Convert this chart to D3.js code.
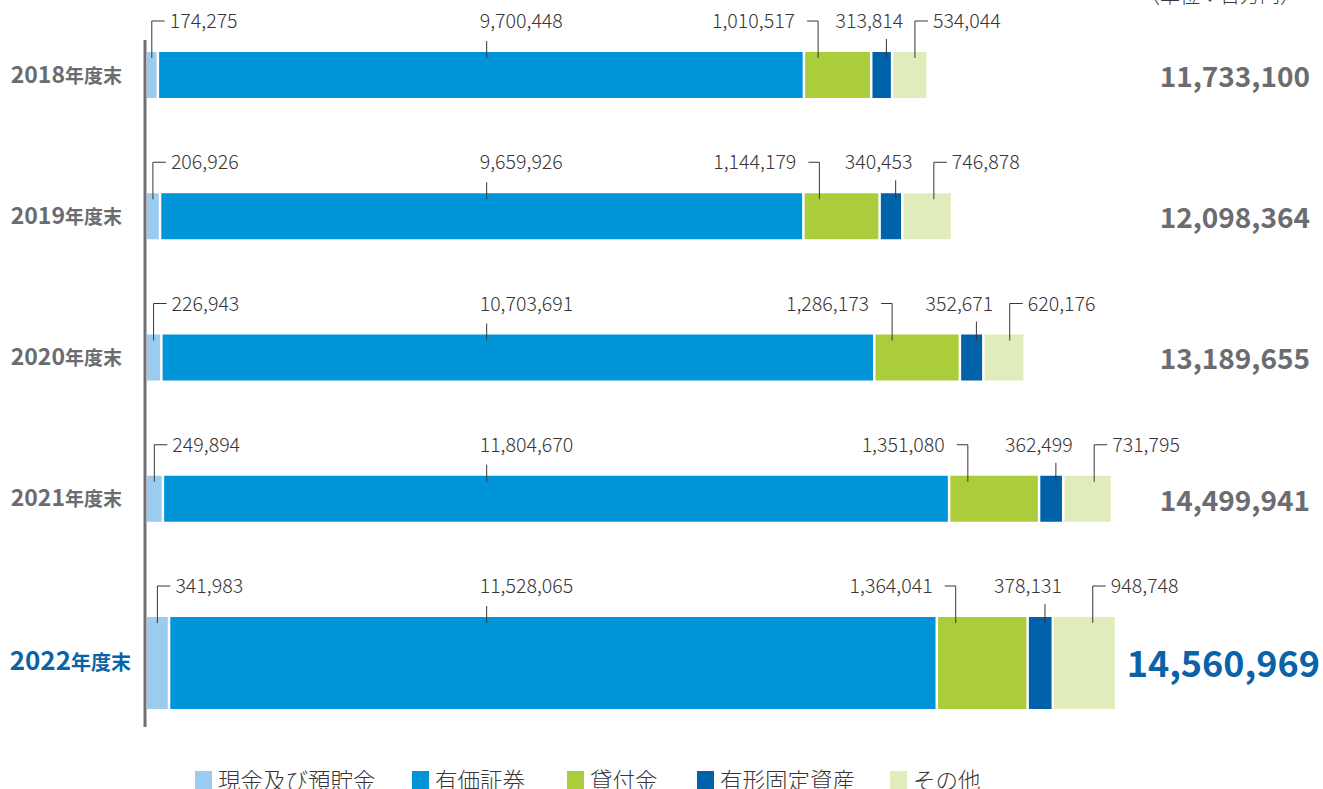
<!DOCTYPE html>
<html>
<head>
<meta charset="utf-8">
<script src="https://cdn.jsdelivr.net/npm/d3@7"></script>
<style>
  body { margin: 0; background: #fff; }
  svg { display: block; font-family: "Noto Sans CJK JP", "Noto Sans", sans-serif; }
  .val { font-size: 19.6px; font-weight: 300; fill: #3a3536; }
  .lead { stroke: #3a3536; stroke-width: 1; fill: none; }
</style>
</head>
<body>
<svg id="svg" width="1323" height="789"></svg>
<script>
// data (単位：百万円)
const years = ["2018", "2019", "2020", "2021", "2022"];
const categories = ["現金及び預貯金", "有価証券", "貸付金", "有形固定資産", "その他"];
const cash = [174275, 206926, 226943, 249894, 341983];
const securities = [9700448, 9659926, 10703691, 11804670, 11528065];
const loans = [1010517, 1144179, 1286173, 1351080, 1364041];
const fixedAssets = [313814, 340453, 352671, 362499, 378131];
const others = [534044, 746878, 620176, 731795, 948748];
const totals = [11733100, 12098364, 13189655, 14499941, 14560969];

const colors = ["#9bcbee", "#0095d9", "#abcd3b", "#0062a8", "#e1ecbc"];
const grey = "#6b6c70", blue = "#0a62a9";

const svg = d3.select("#svg");

var x = d3.scaleLinear().domain([0, 15000000]).range([147, 1146]);
var y = d3.scalePoint().domain(years).range([75, 640]);
const color = d3.scaleOrdinal().domain(categories).range(colors);

const rows = years.map((yr, i) => {
    const vals = [cash[i], securities[i], loans[i], fixedAssets[i], others[i]];
    let acc = 0;
    const segs = vals.map((v, k) => {
        const s = { cat: categories[k], k: k, v: v, x0: acc, x1: acc + v };
        acc += v;
        return s;
    });
    return { year: yr, i: i, segs: segs, total: totals[i], last: i == years.length - 1 };
});

// vertical axis line
svg.append("line")
    .attr("x1", 145).attr("x2", 145)
    .attr("y1", y(years[0]) - 35).attr("y2", y(years[years.length - 1]) + 87)
    .attr("stroke", "#707074").attr("stroke-width", 3);

const row = svg.selectAll(".row").data(rows).enter().append("g").attr("class", "row");

function barTop(d) { return y(d.year) - 23; }
function barH(d) { return d.last ? 92 : 46; }

row.each(function(d) {
    const g = d3.select(this);
    const top = barTop(d), h = barH(d);

    g.selectAll("rect").data(d.segs).enter().append("rect")
        .attr("x", s => x(s.x0) + (s.k ? 0.5 : 0))
        .attr("width", s => Math.max(1, x(s.x1) - x(s.x0) - (s.k ? 2.5 : 2)))
        .attr("y", top)
        .attr("height", h)
        .attr("fill", s => color(s.cat));

    // labels + leaders
    d.segs.forEach(s => {
        const a = x(s.x0), b = x(s.x1), w = b - a;
        const txt = d3.format(",")(s.v);
        const ly = top - 31, ty = top - 24;
        if (s.k == 0 || s.k == 4) {
            const lx = s.k == 0 ? (a + b) / 2 - 1 : a + w * 0.62;
            g.append("path").attr("class", "lead")
                .attr("d", `M${lx},${top + 6}V${ly}H${lx + 13}`);
            g.append("text").attr("class", "val")
                .attr("x", lx + 18).attr("y", ty).text(txt);
        } else if (s.k == 2) {
            const lx = a + w * 0.2;
            g.append("path").attr("class", "lead")
                .attr("d", `M${lx},${top + 6}V${ly}H${lx - 11}`);
            g.append("text").attr("class", "val")
                .attr("x", lx - 23).attr("y", ty)
                .attr("text-anchor", "end").text(txt);
        } else if (s.k == 1) {
            // securities tick sits at the same place on every row
            const lx = x(5100000);
            g.append("path").attr("class", "lead")
                .attr("d", `M${lx},${top + 6}V${top - 11}`);
            g.append("text").attr("class", "val")
                .attr("x", lx - 7).attr("y", ty).text(txt);
        } else {
            const lx = (a + b) / 2 + 4;
            g.append("path").attr("class", "lead")
                .attr("d", `M${lx},${top + 6}V${top - 13}`);
            g.append("text").attr("class", "val")
                .attr("x", lx - 17).attr("y", ty)
                .attr("text-anchor", "middle").text(txt);
        }
    });

    // year label
    const yl = g.append("text")
        .attr("x", d.last ? 131 : 122)
        .attr("y", y(d.year) + (d.last ? 24 : 2))
        .attr("dy", "0.35em")
        .attr("text-anchor", "end")
        .attr("font-weight", 700)
        .attr("fill", d.last ? blue : grey);
    yl.append("tspan").attr("font-size", d.last ? 26 : 23).text(d.year);
    yl.append("tspan").attr("font-size", d.last ? 20 : 19).text("年度末");

    // total
    g.append("text")
        .attr("x", d.last ? 1320 : 1310)
        .attr("y", y(d.year) + (d.last ? 24 : 2))
        .attr("dy", "0.35em")
        .attr("text-anchor", "end")
        .attr("font-weight", 700)
        .attr("font-size", d.last ? 36 : 28)
        .attr("fill", d.last ? blue : grey)
        .text(d3.format(",")(d.total));
});

// unit
svg.append("text")
    .attr("x", 1300).attr("y", 3)
    .attr("text-anchor", "end")
    .attr("font-size", 20).attr("font-weight", 300)
    .attr("fill", "#3a3536")
    .text("（単位：百万円）");

// legend
const legX = [195, 412, 567, 697, 890];
const leg = svg.selectAll(".leg").data(categories).enter().append("g")
    .attr("class", "leg")
    .attr("transform", (c, i) => `translate(${legX[i]},771)`);
leg.append("rect").attr("width", 17).attr("height", 18).attr("fill", c => color(c));
leg.append("text").attr("x", 23).attr("y", 18)
    .attr("font-size", 22.5).attr("font-weight", 300).attr("fill", "#3a3536")
    .text(c => c);
</script>
</body>
</html>
